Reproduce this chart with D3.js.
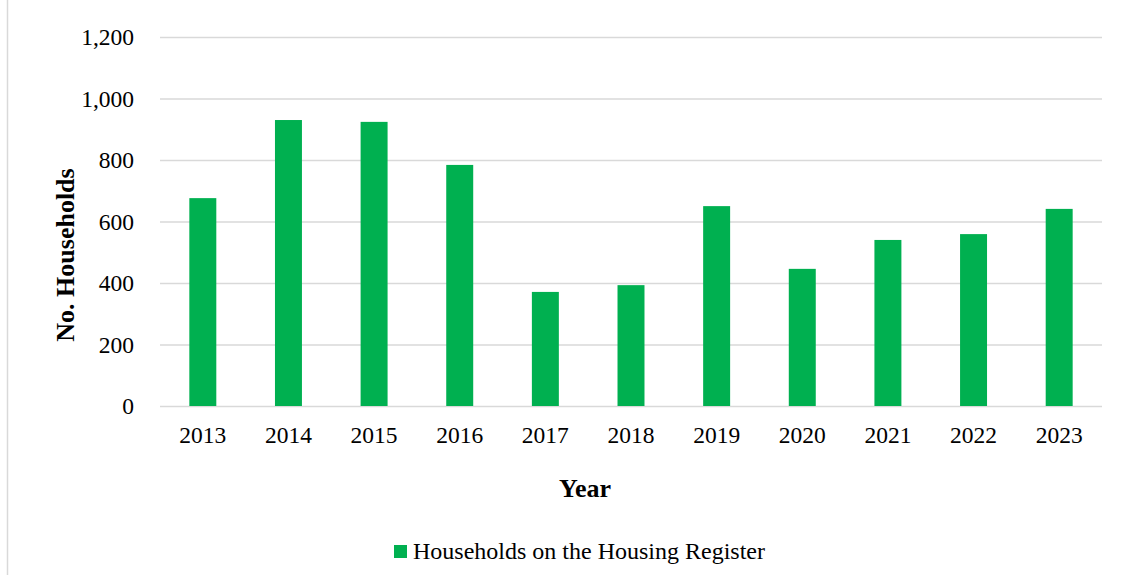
<!DOCTYPE html>
<html><head><meta charset="utf-8">
<script src="https://cdn.jsdelivr.net/npm/d3@7"></script>
<style>body{margin:0;background:#fff}svg{display:block}</style>
</head><body>
<svg id="c" width="1130" height="575"></svg>
<script>
const years = ["2013","2014","2015","2016","2017","2018","2019","2020","2021","2022","2023"];
const households = [676, 930, 924, 784, 371, 393, 650, 446, 540, 559, 641];
const yTicks = [0, 200, 400, 600, 800, 1000, 1200];
const seriesName = "Households on the Housing Register";

const svg = d3.select("#c");
const font = "'Liberation Serif','Times New Roman',serif";
const m = {left:160, right:1102, top:37, bottom:406};

svg.append("line").attr("x1",7.5).attr("x2",7.5).attr("y1",0).attr("y2",575)
  .attr("stroke","#d9d9d9").attr("stroke-width",1.5);

const x = d3.scaleBand().domain(years).range([m.left, m.right]).paddingInner(0.685).paddingOuter(0.3425);
const y = d3.scaleLinear().domain([0,1200]).range([m.bottom, m.top]);

const yAxis = svg.append("g").attr("transform",`translate(${m.left},0)`)
  .call(d3.axisLeft(y).tickValues(yTicks).tickFormat(d3.format(",")).tickSize(-(m.right-m.left)).tickPadding(26));
yAxis.select(".domain").remove();
yAxis.selectAll(".tick line").attr("stroke","#d9d9d9").attr("stroke-width",1.5);
yAxis.selectAll("text").attr("font-family",font).attr("font-size",23.5).attr("fill","#000");

svg.append("g").selectAll("rect").data(years).join("rect")
  .attr("x",d=>x(d)).attr("width",x.bandwidth())
  .attr("y",(d,i)=>y(households[i])).attr("height",(d,i)=>y(0)-y(households[i]))
  .attr("fill","#00b050");

const xAxis = svg.append("g").attr("transform",`translate(0,${m.bottom})`)
  .call(d3.axisBottom(x).tickSize(0).tickPadding(20));
xAxis.select(".domain").remove();
xAxis.selectAll("text").attr("font-family",font).attr("font-size",23.5).attr("fill","#000");

svg.append("text").attr("x",585).attr("y",497).attr("text-anchor","middle")
  .attr("font-family",font).attr("font-size",26).attr("font-weight","bold").text("Year");

svg.append("text").attr("transform","translate(74,255) rotate(-90)").attr("text-anchor","middle")
  .attr("font-family",font).attr("font-size",26).attr("font-weight","bold").text("No. Households");

const lg = svg.append("g");
lg.append("rect").attr("x",394).attr("y",545).attr("width",13).attr("height",13).attr("fill","#00b050");
lg.append("text").attr("x",413).attr("y",559).attr("font-family",font).attr("font-size",24).attr("fill","#000").text(seriesName);
</script>
</body></html>
